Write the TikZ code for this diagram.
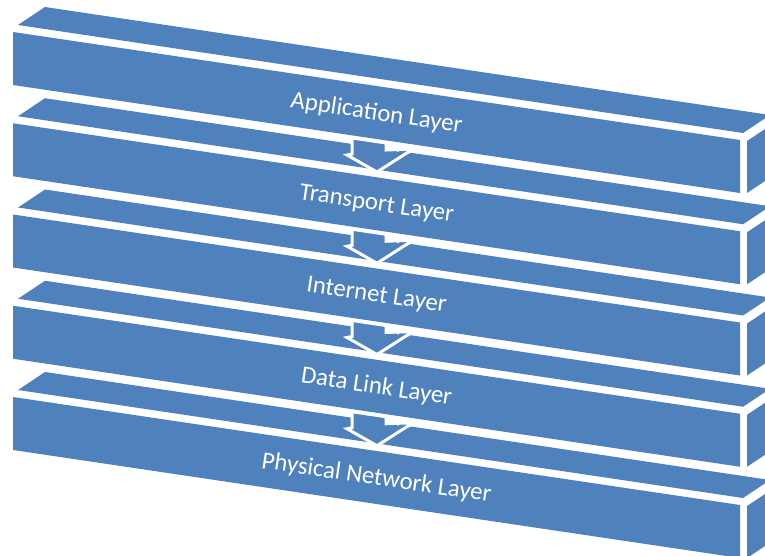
\documentclass[tikz,border=0pt]{standalone}
\usepackage{fontspec}
\setmainfont{Carlito}
\definecolor{barblue}{RGB}{79,129,189}
\begin{document}
\begin{tikzpicture}[x=1pt,y=-1pt,
  face/.style={fill=barblue, draw=none},
  arrowshape/.style={fill=barblue, draw=white, line width=3pt, line join=miter},
  lbl/.style={text=white, font=\fontsize{24.8}{28}\selectfont, rotate=-8.45, inner sep=0pt}]
\path[use as bounding box] (0,0) rectangle (765,556);
\clip (0,0) rectangle (765,556);
% bars
\foreach \k in {0,...,4}{
  \pgfmathsetmacro\o{91.25*\k}
  % top face
  \fill[face] (18,{25+\o}) -- (45,{7+\o}) -- (770,{115+\o}) -- (743,{133+\o}) -- cycle;
  % front face
  \fill[face] (13,{32+\o}) -- (740,{140+\o}) -- (740,{193+\o}) -- (13,{85+\o}) -- cycle;
  % side face
  \fill[face] (747,{141+\o}) -- (774,{123+\o}) -- (774,{175+\o}) -- (747,{193+\o}) -- cycle;
}
% arrows between bars
\foreach \k in {0,...,3}{
  \pgfmathsetmacro\o{91.25*\k}
  \draw[arrowshape] (352,{138+\o}) -- (352,{154+\o}) -- (347,{155+\o}) -- (377,{172+\o})
     -- (413,{149+\o}) -- (386,{150+\o}) -- (386,{143+\o}) -- cycle;
  \draw[white, line width=1pt] (400,{157+\o}) -- (411,{152+\o});
  \fill[white] (398,{151+\o}) circle (1.2);
}
% labels
\node[lbl] (app) at (376.5,113.5) {Application Layer};
\node[lbl] (trans) at (376.5,204.75) {Transport Layer};
\node[lbl] (inet) at (376.5,296) {Internet Layer};
\node[lbl] (link) at (376.5,387.25) {Data Link Layer};
\node[lbl] (phys) at (376.5,478.5) {Physical Network Layer};
\end{tikzpicture}
\end{document}
